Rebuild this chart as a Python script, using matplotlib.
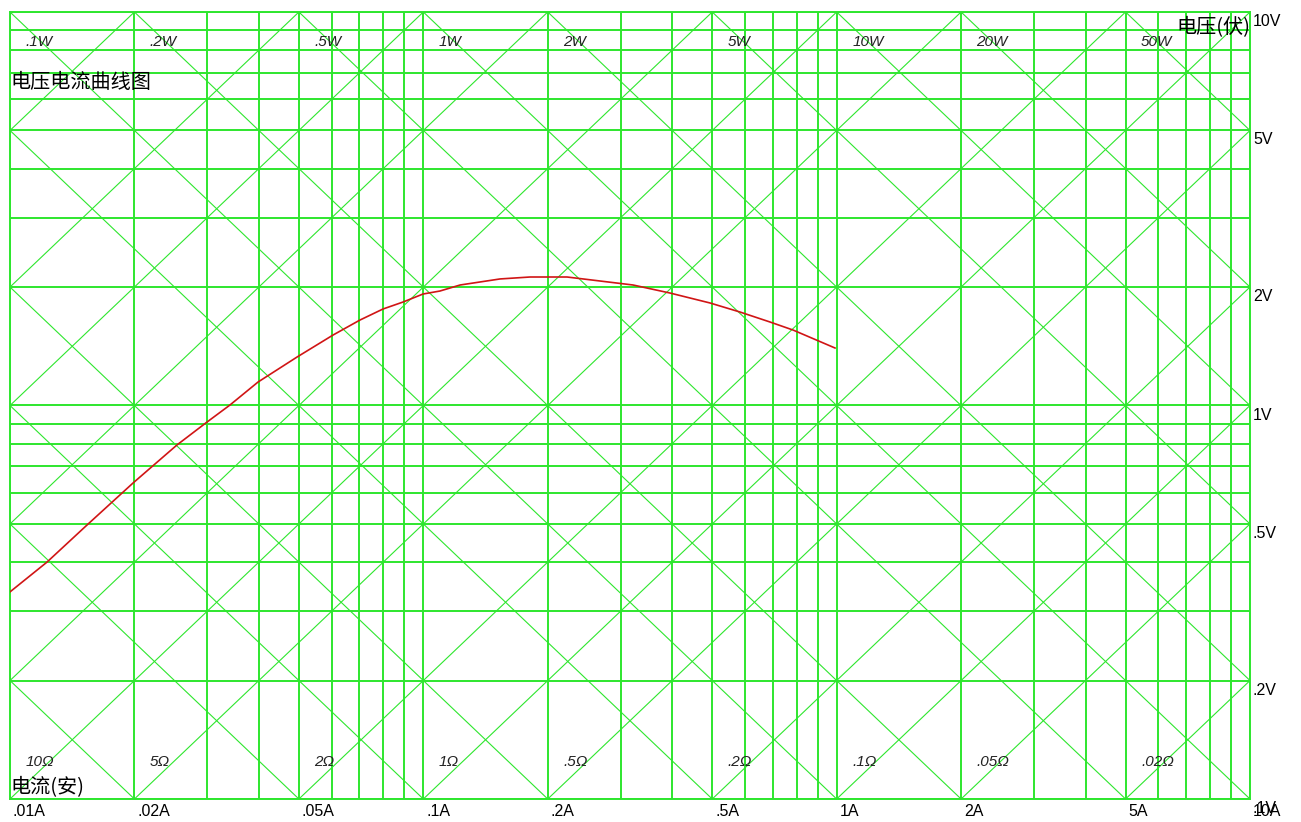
import numpy as np
import matplotlib.pyplot as plt
import matplotlib.transforms as mtransforms
from matplotlib.ticker import NullFormatter

current = [0.01, 0.01229, 0.01536, 0.01985, 0.02535, 0.02998, 0.03406, 0.03981,
           0.04949, 0.06045, 0.07027, 0.07989, 0.0893, 0.09982, 0.1097, 0.1227,
           0.1533, 0.1812, 0.2227, 0.2676, 0.3217, 0.3953, 0.4938, 0.5836,
           0.6898, 0.7845, 0.9908]
voltage = [0.336, 0.400, 0.497, 0.6355, 0.7938, 0.908, 1.003, 1.147,
           1.328, 1.510, 1.649, 1.759, 1.832, 1.920, 1.954, 2.024,
           2.097, 2.121, 2.121, 2.072, 2.024, 1.931, 1.822, 1.728,
           1.630, 1.555, 1.400]

# constant power / resistance grid lines
powers = [0.001, 0.002, 0.005, 0.01, 0.02, 0.05, 0.1, 0.2, 0.5, 1, 2, 5, 10, 20, 50, 100]
resistances = [0.01, 0.02, 0.05, 0.1, 0.2, 0.5, 1, 2, 5, 10, 20, 50, 100, 200, 500, 1000]

power_labels = [(0.1, '.1W'), (0.2, '.2W'), (0.5, '.5W'), (1, '1W'), (2, '2W'),
                (5, '5W'), (10, '10W'), (20, '20W'), (50, '50W')]
res_labels = [(10, '10Ω'), (5, '5Ω'), (2, '2Ω'), (1, '1Ω'), (0.5, '.5Ω'),
              (0.2, '.2Ω'), (0.1, '.1Ω'), (0.05, '.05Ω'), (0.02, '.02Ω')]

x_ticks = [0.01, 0.02, 0.05, 0.1, 0.2, 0.5, 1, 2, 5, 10]
x_tick_labels = ['.01A', '.02A', '.05A', '.1A', '.2A', '.5A', '1A', '2A', '5A', '10A']
y_ticks = [10, 5, 2, 1, 0.5, 0.2, 0.1]
y_tick_labels = ['10V', '5V', '2V', '1V', '.5V', '.2V', '.1V']

cjk = ['Noto Sans CJK SC', 'DejaVu Sans']
green = '#2ee62e'

fig = plt.figure(figsize=(13.01, 8.22), dpi=100)
ax = fig.add_axes([10 / 1301, 23 / 822, 1240 / 1301, 787 / 822])
ax.set_xscale('log')
ax.set_yscale('log')
ax.set_xlim(0.01, 10)
ax.set_ylim(0.1, 10)

ax.grid(True, which='both', color=green, lw=1.4)
ax.tick_params(which='both', length=0)
ax.xaxis.set_major_formatter(NullFormatter())
ax.xaxis.set_minor_formatter(NullFormatter())
ax.yaxis.set_major_formatter(NullFormatter())
ax.yaxis.set_minor_formatter(NullFormatter())
for s in ax.spines.values():
    s.set_color(green)
    s.set_linewidth(1.4)

ends = np.array([0.01, 10])
for p in powers:
    ax.plot(ends, p / ends, color=green, lw=0.8)
for r in resistances:
    ax.plot(ends, r * ends, color=green, lw=0.8)

ax.plot(current, voltage, color='#d01515', lw=1.2, zorder=5)

# diagonal labels
for p, lab in power_labels:
    ax.text(p / 10 * 1.09, 8.4, lab, fontsize=11, style='italic',
            family='Liberation Sans', color='#222222', ha='left', va='center')
for r, lab in res_labels:
    ax.text(0.1 / r * 1.09, 0.124, lab, fontsize=11, style='italic',
            family='Liberation Sans', color='#222222', ha='left', va='center')

# tick labels
xt = mtransforms.offset_copy(ax.get_xaxis_transform(), fig=fig, x=3, y=-5, units='dots')
for x, lab in zip(x_ticks, x_tick_labels):
    ax.text(x, 0, lab, transform=xt, fontsize=11.5, family='Liberation Sans',
            ha='left', va='top', clip_on=False)
yt = mtransforms.offset_copy(ax.get_yaxis_transform(), fig=fig, x=3, y=-2, units='dots')
for y, lab in zip(y_ticks, y_tick_labels):
    ax.text(1, y, lab, transform=yt, fontsize=11.5, family='Liberation Sans',
            ha='left', va='top', clip_on=False)

ax.text(0, 0.911, '电压电流曲线图', transform=ax.transAxes, fontsize=14.5,
        family=cjk, ha='left', va='center')
ax.text(1, 0.98, '电压(伏)', transform=ax.transAxes, fontsize=14.5,
        family=cjk, ha='right', va='center')
ax.text(0, 0.014, '电流(安)', transform=ax.transAxes, fontsize=14.5,
        family=cjk, ha='left', va='center')

fig.savefig('out.png', dpi=100, facecolor='white')
